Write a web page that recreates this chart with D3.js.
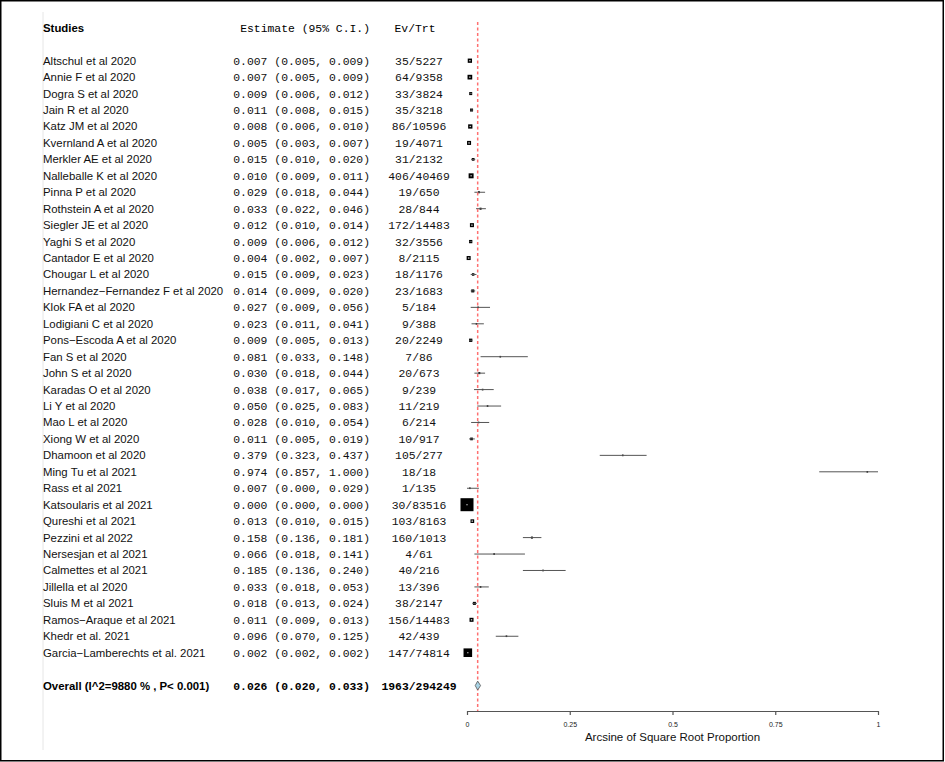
<!DOCTYPE html>
<html>
<head>
<meta charset="utf-8">
<script src="https://cdn.jsdelivr.net/npm/d3@7/dist/d3.min.js"></script>
<style>
  html, body { margin: 0; padding: 0; background: #fff; }
  svg { display: block; }
</style>
</head>
<body>
<svg id="chart" width="945" height="762"></svg>
<script>
// ---------- DATA ----------
const studies = [
  "Altschul et al 2020", "Annie F et al 2020", "Dogra S et al 2020", "Jain R et al 2020",
  "Katz JM et al 2020", "Kvernland A et al 2020", "Merkler AE et al 2020", "Nalleballe K et al 2020",
  "Pinna P et al 2020", "Rothstein A et al 2020", "Siegler JE et al 2020", "Yaghi S et al 2020",
  "Cantador E et al 2020", "Chougar L et al 2020", "Hernandez\u2212Fernandez F et al 2020", "Klok FA et al 2020",
  "Lodigiani C et al 2020", "Pons\u2212Escoda A et al 2020", "Fan S et al 2020", "John S et al 2020",
  "Karadas O et al 2020", "Li Y et al 2020", "Mao L et al 2020", "Xiong W et al 2020",
  "Dhamoon et al 2020", "Ming Tu et al 2021", "Rass et al 2021", "Katsoularis et al 2021",
  "Qureshi et al 2021", "Pezzini et al 2022", "Nersesjan et al 2021", "Calmettes et al 2021",
  "Jillella et al 2020", "Sluis M et al 2021", "Ramos\u2212Araque et al 2021", "Khedr et al. 2021",
  "Garcia\u2212Lamberechts et al. 2021"
];
const estimates = [0.007,0.007,0.009,0.011,0.008,0.005,0.015,0.010,0.029,0.033,0.012,0.009,
  0.004,0.015,0.014,0.027,0.023,0.009,0.081,0.030,0.038,0.050,0.028,0.011,
  0.379,0.974,0.007,0.000,0.013,0.158,0.066,0.185,0.033,0.018,0.011,0.096,0.002];
const lower = [0.005,0.005,0.006,0.008,0.006,0.003,0.010,0.009,0.018,0.022,0.010,0.006,
  0.002,0.009,0.009,0.009,0.011,0.005,0.033,0.018,0.017,0.025,0.010,0.005,
  0.323,0.857,0.000,0.000,0.010,0.136,0.018,0.136,0.018,0.013,0.009,0.070,0.002];
const upper = [0.009,0.009,0.012,0.015,0.010,0.007,0.020,0.011,0.044,0.046,0.014,0.012,
  0.007,0.023,0.020,0.056,0.041,0.013,0.148,0.044,0.065,0.083,0.054,0.019,
  0.437,1.000,0.029,0.000,0.015,0.181,0.141,0.240,0.053,0.024,0.013,0.125,0.002];
const events = ["35/5227","64/9358","33/3824","35/3218","86/10596","19/4071","31/2132","406/40469",
  "19/650","28/844","172/14483","32/3556","8/2115","18/1176","23/1683","5/184",
  "9/388","20/2249","7/86","20/673","9/239","11/219","6/214","10/917",
  "105/277","18/18","1/135","30/83516","103/8163","160/1013","4/61","40/216",
  "13/396","38/2147","156/14483","42/439","147/74814"];
// estimated relative study weights (%)
const weights = [3.4,4.1,1.7,1.7,3.4,3.0,1.35,4.6,0.74,0.74,3.0,2.0,
  3.0,1.15,1.7,0.2,0.42,2.0,0.2,0.74,0.2,0.42,0.2,1.35,
  0.2,0.2,0.42,31.3,2.5,0.74,0.2,0.2,0.42,1.7,3.0,0.2,13.7];
const overall = { label: "Overall (I^2=9880 % , P< 0.001)", est: 0.026, lo: 0.020, hi: 0.033, ev: "1963/294249" };
const xTicks = [0, 0.25, 0.5, 0.75, 1];
const xTickLabels = ["0", "0.25", "0.5", "0.75", "1"];
const headers = { studies: "Studies", est: "Estimate (95% C.I.)", ev: "Ev/Trt" };
const xTitle = "Arcsine of Square Root Proportion";

// ---------- DRAW ----------
const svg = d3.select("#chart");
const W = 945, H = 762;
const sans = "'Liberation Sans', Arial, Helvetica, sans-serif";
const mono = "'Liberation Mono', 'Courier New', monospace";
const fs = 11.4;

const fmt = d3.format(".3f");
const x = d3.scaleLinear().domain([0, 1]).range([467, 878]);
const y = d3.scaleLinear().domain([0, studies.length - 1]).range([60.7, 652.7]);
const step = y(1) - y(0);
const yOverall = y(studies.length - 1) + 2 * step;
const yHeader = 27.7;
const size = d3.scaleSqrt().domain([0, d3.max(weights)]).range([0, 13]);

// frame
svg.append("rect").attr("x", 0.75).attr("y", 0.75).attr("width", W - 2.5).attr("height", H - 2)
  .attr("fill", "none").attr("stroke", "#000").attr("stroke-width", 1.5);
svg.append("line").attr("x1", 43).attr("x2", 43).attr("y1", 12).attr("y2", 750)
  .attr("stroke", "#e6e6e6").attr("stroke-width", 1);

const colStudyX = 43, colEstX = 370, colEvX = 419;

// headers
svg.append("text").attr("x", colStudyX).attr("y", yHeader).attr("dy", "0.35em")
  .attr("font-family", sans).attr("font-size", fs).attr("font-weight", "bold").text(headers.studies);
svg.append("text").attr("x", colEstX).attr("y", yHeader).attr("dy", "0.35em").attr("text-anchor", "end")
  .attr("font-family", mono).attr("font-size", fs).text(headers.est);
svg.append("text").attr("x", 415).attr("y", yHeader).attr("dy", "0.35em").attr("text-anchor", "middle")
  .attr("font-family", mono).attr("font-size", fs).text(headers.ev);

const rows = studies.map((s, i) => ({ s, i, est: estimates[i], lo: lower[i], hi: upper[i], ev: events[i], w: weights[i] }));

const g = svg.append("g");
g.selectAll("text.name").data(rows).join("text").attr("class", "name")
  .attr("x", colStudyX).attr("y", d => y(d.i)).attr("dy", "0.35em")
  .attr("font-family", sans).attr("font-size", fs).attr("fill", "#111").text(d => d.s);
g.selectAll("text.est").data(rows).join("text").attr("class", "est")
  .attr("x", colEstX).attr("y", d => y(d.i)).attr("dy", "0.35em").attr("text-anchor", "end")
  .attr("font-family", mono).attr("font-size", fs).attr("fill", "#111")
  .text(d => `${fmt(d.est)} (${fmt(d.lo)}, ${fmt(d.hi)})`);
g.selectAll("text.ev").data(rows).join("text").attr("class", "ev")
  .attr("x", colEvX).attr("y", d => y(d.i)).attr("dy", "0.35em").attr("text-anchor", "middle")
  .attr("font-family", mono).attr("font-size", fs).attr("fill", "#111").text(d => d.ev);

// overall text
svg.append("text").attr("x", colStudyX).attr("y", yOverall).attr("dy", "0.35em")
  .attr("font-family", sans).attr("font-size", fs).attr("font-weight", "bold").text(overall.label);
svg.append("text").attr("x", colEstX).attr("y", yOverall).attr("dy", "0.35em").attr("text-anchor", "end")
  .attr("font-family", mono).attr("font-size", fs).attr("font-weight", "bold")
  .text(`${fmt(overall.est)} (${fmt(overall.lo)}, ${fmt(overall.hi)})`);
svg.append("text").attr("x", colEvX).attr("y", yOverall).attr("dy", "0.35em").attr("text-anchor", "middle")
  .attr("font-family", mono).attr("font-size", fs).attr("font-weight", "bold").text(overall.ev);

// reference line
svg.append("line").attr("x1", x(overall.est)).attr("x2", x(overall.est)).attr("y1", 22).attr("y2", 711)
  .attr("stroke", "#ff7070").attr("stroke-width", 1.5).attr("stroke-dasharray", "3,2.5");

// boxes
g.selectAll("rect.box").data(rows).join("rect").attr("class", "box")
  .attr("x", d => x(d.est) - Math.max(size(d.w), 1.6) / 2)
  .attr("y", d => y(d.i) - Math.max(size(d.w), 1.6) / 2)
  .attr("width", d => Math.max(size(d.w), 1.6)).attr("height", d => Math.max(size(d.w), 1.6))
  .attr("fill", "#000");
// CIs
g.selectAll("line.ci").data(rows).join("line").attr("class", "ci")
  .attr("x1", d => x(d.lo)).attr("x2", d => x(d.hi))
  .attr("y1", d => y(d.i)).attr("y2", d => y(d.i))
  .attr("stroke", "#555").attr("stroke-width", 1);
// centre markers inside larger boxes
g.selectAll("rect.ctr").data(rows.filter(d => size(d.w) >= 3.5)).join("rect").attr("class", "ctr")
  .attr("x", d => x(d.est) - 0.6).attr("y", d => y(d.i) - 0.6).attr("width", 1.2).attr("height", 1.2)
  .attr("fill", "#ccc");

// diamond
const dh = 4.5;
svg.append("path")
  .attr("d", `M${x(overall.lo)},${yOverall} L${x(overall.est)},${yOverall - dh} L${x(overall.hi)},${yOverall} L${x(overall.est)},${yOverall + dh} Z`)
  .attr("fill", "#a9d4e6").attr("stroke", "#555").attr("stroke-width", 0.8);

// axis
const axis = d3.axisBottom(x).tickValues(xTicks).tickFormat((d, i) => xTickLabels[i]).tickSize(4).tickSizeOuter(0).tickPadding(7);
const ax = svg.append("g").attr("transform", "translate(0,711)").call(axis);
ax.select(".domain").attr("stroke", "#555").attr("stroke-width", 1.2);
ax.selectAll(".tick line").attr("stroke", "#555").attr("stroke-width", 1.2);
ax.selectAll(".tick text").attr("font-family", sans).attr("font-size", 7).attr("fill", "#222");

svg.append("text").attr("x", x(0.5)).attr("y", 737).attr("dy", "0.35em").attr("text-anchor", "middle")
  .attr("font-family", sans).attr("font-size", 11.5).attr("fill", "#111").text(xTitle);
</script>
</body>
</html>
